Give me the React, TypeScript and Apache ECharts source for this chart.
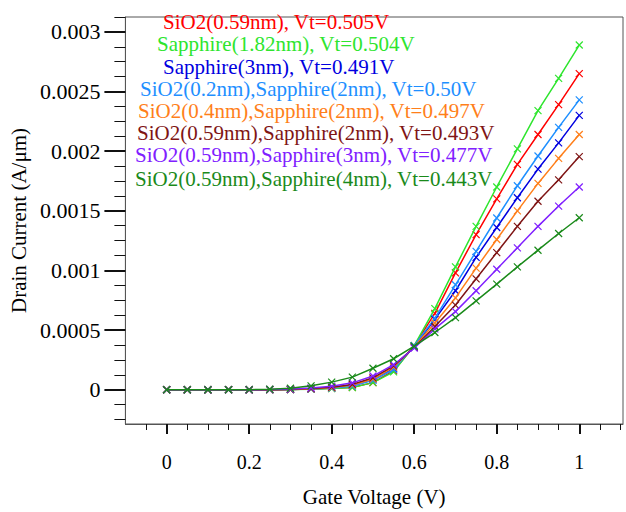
import React, { useEffect, useRef } from "react";
import * as echarts from "echarts";

const xValues = [0, 0.05, 0.1, 0.15, 0.2, 0.25, 0.3, 0.35, 0.4, 0.45, 0.5, 0.55, 0.6, 0.65, 0.7, 0.75, 0.8, 0.85, 0.9, 0.95, 1];

const seriesNames = [
  "SiO2(0.59nm), Vt=0.505V",
  "Sapphire(1.82nm), Vt=0.504V",
  "Sapphire(3nm), Vt=0.491V",
  "SiO2(0.2nm),Sapphire(2nm), Vt=0.50V",
  "SiO2(0.4nm),Sapphire(2nm), Vt=0.497V",
  "SiO2(0.59nm),Sapphire(2nm), Vt=0.493V",
  "SiO2(0.59nm),Sapphire(3nm), Vt=0.477V",
  "SiO2(0.59nm),Sapphire(4nm), Vt=0.443V",
];

const seriesColors = ["#ff0000", "#2ee52e", "#0000e0", "#1e8fff", "#ff7f1a", "#7f1515", "#8020ff", "#1a8a1a"];

const sio2_059 = [0, 0, 0, 0, 0, 0.000001, 0.000003, 0.000007, 0.000012, 0.00002, 0.00006, 0.00016, 0.00037, 0.00064, 0.00098, 0.0013, 0.0016, 0.00189, 0.00214, 0.00239, 0.00265];
const sapphire_182 = [0, 0, 0, 0, 0, 0.000001, 0.000002, 0.000005, 0.00001, 0.000018, 0.00006, 0.00015, 0.00037, 0.00068, 0.00103, 0.00137, 0.0017, 0.00202, 0.00234, 0.00261, 0.00289];
const sapphire_3 = [0, 0, 0, 0, 0, 0.000001, 0.000002, 0.000008, 0.000018, 0.000038, 0.000085, 0.00018, 0.00036, 0.00059, 0.00083, 0.00111, 0.00136, 0.00161, 0.00185, 0.00207, 0.0023];
const sio2_02_sap2 = [0, 0, 0, 0, 0, 0.000001, 0.000002, 0.000006, 0.000014, 0.00003, 0.00008, 0.00017, 0.00037, 0.0006, 0.00088, 0.00116, 0.00144, 0.00171, 0.00196, 0.0022, 0.00243];
const sio2_04_sap2 = [0, 0, 0, 0, 0, 0.000001, 0.000002, 0.000007, 0.000018, 0.00004, 0.00009, 0.00019, 0.00036, 0.00056, 0.00077, 0.00102, 0.00126, 0.0015, 0.00173, 0.00194, 0.00214];
const sio2_059_sap2 = [0, 0, 0, 0, 0, 0.000001, 0.000004, 0.00001, 0.000022, 0.000045, 0.0001, 0.0002, 0.000355, 0.00053, 0.00071, 0.00093, 0.00115, 0.00137, 0.00158, 0.00176, 0.001955];
const sio2_059_sap3 = [0, 0, 0, 0, 0, 0.000002, 0.000006, 0.000015, 0.00003, 0.000058, 0.000115, 0.00021, 0.00035, 0.00051, 0.000655, 0.00083, 0.00101, 0.00119, 0.00137, 0.00154, 0.0017];
const sio2_059_sap4 = [0, 0, 0, 0, 0.000001, 0.000004, 0.000013, 0.000033, 0.000064, 0.000106, 0.00018, 0.00026, 0.000365, 0.00048, 0.000605, 0.000745, 0.000885, 0.00103, 0.00117, 0.00131, 0.001442];

const seriesValues = [sio2_059, sapphire_182, sapphire_3, sio2_02_sap2, sio2_04_sap2, sio2_059_sap2, sio2_059_sap3, sio2_059_sap4];

const yMajorTicks = [0, 0.0005, 0.001, 0.0015, 0.002, 0.0025, 0.003];
const yTickLabels = ["0", "0.0005", "0.001", "0.0015", "0.002", "0.0025", "0.003"];
const yMinorTicks = [-0.00025, -0.000125, 0.000125, 0.00025, 0.000375, 0.000625, 0.00075, 0.000875, 0.001125, 0.00125, 0.001375, 0.001625, 0.00175, 0.001875, 0.002125, 0.00225, 0.002375, 0.002625, 0.00275, 0.002875, 0.003125];
const xMajorTicks = [0, 0.2, 0.4, 0.6, 0.8, 1];
const xTickLabels = ["0", "0.2", "0.4", "0.6", "0.8", "1"];
const xMinorTicks = [-0.05, 0.05, 0.1, 0.15, 0.25, 0.3, 0.35, 0.45, 0.5, 0.55, 0.65, 0.7, 0.75, 0.85, 0.9, 0.95, 1.05, 1.1];

const legendPos = [
  [163, 22],
  [157, 44],
  [163, 66.5],
  [140, 88.5],
  [138, 110.5],
  [137, 132.5],
  [135, 154.5],
  [135, 178.5],
];

const FONT = "Liberation Serif";

export default function App() {
  const ref = useRef<HTMLDivElement>(null);
  useEffect(() => {
    if (!ref.current) return;
    const chart = echarts.init(ref.current, null, { renderer: "svg" });
    const X_MIN = -0.1, X_MAX = 1.106, Y_MIN = -0.000287, Y_MAX = 0.003125;
    const xLabelMap: Record<string, string> = {};
    xMajorTicks.forEach((v, i) => (xLabelMap[String(v)] = xTickLabels[i]));
    const yLabelMap: Record<string, string> = {};
    yMajorTicks.forEach((v, i) => (yLabelMap[String(v)] = yTickLabels[i]));

    chart.setOption({
      animation: false,
      backgroundColor: "#ffffff",
      grid: { left: 122, top: 17, right: 3, bottom: 85, show: true, borderColor: "#555", borderWidth: 1, backgroundColor: "transparent" },
      xAxis: [
        {
          type: "value", min: X_MIN, max: X_MAX,
          name: "Gate Voltage (V)", nameLocation: "middle", nameGap: 62,
          nameTextStyle: { fontFamily: FONT, fontSize: 21, color: "#000" },
          axisLine: { show: true, onZero: false, lineStyle: { color: "#555", width: 1 } },
          axisTick: { show: true, customValues: xMajorTicks, length: 10, lineStyle: { color: "#111", width: 2 } },
          axisLabel: { show: true, customValues: xMajorTicks, margin: 28, fontFamily: FONT, fontSize: 20, color: "#000", formatter: (v: number) => xLabelMap[String(Math.round(v * 1000) / 1000)] ?? "" },
          splitLine: { show: false },
        },
        {
          type: "value", min: X_MIN, max: X_MAX, position: "bottom",
          axisLine: { show: false, onZero: false },
          axisTick: { show: true, customValues: xMinorTicks, length: 6, lineStyle: { color: "#111", width: 1 } },
          axisLabel: { show: false },
          splitLine: { show: false },
        },
      ],
      yAxis: [
        {
          type: "value", min: Y_MIN, max: Y_MAX,
          name: "Drain Current (A/μm)", nameLocation: "middle", nameGap: 90, nameRotate: 90,
          nameTextStyle: { fontFamily: FONT, fontSize: 21, color: "#000" },
          axisLine: { show: true, onZero: false, lineStyle: { color: "#555", width: 1 } },
          axisTick: { show: true, customValues: yMajorTicks, length: 21, lineStyle: { color: "#111", width: 2 } },
          axisLabel: { show: true, customValues: yMajorTicks, margin: 25, fontFamily: FONT, fontSize: 22, color: "#000", formatter: (v: number) => yLabelMap[String(Math.round(v * 100000) / 100000)] ?? "" },
          splitLine: { show: false },
        },
        {
          type: "value", min: Y_MIN, max: Y_MAX, position: "left",
          axisLine: { show: false, onZero: false },
          axisTick: { show: true, customValues: yMinorTicks, length: 11, lineStyle: { color: "#111", width: 1 } },
          axisLabel: { show: false },
          splitLine: { show: false },
        },
      ],
      series: seriesValues.map((vals, i) => ({
        type: "line",
        name: seriesNames[i],
        xAxisIndex: 0,
        yAxisIndex: 0,
        data: vals.map((v, j) => [xValues[j], v]),
        symbol: "path://M0,0L10,10M10,0L0,10",
        symbolSize: 7,
        showSymbol: true,
        showAllSymbol: true,
        lineStyle: { color: seriesColors[i], width: 1.5 },
        itemStyle: { color: seriesColors[i], borderColor: seriesColors[i], borderWidth: 1.2 },
        z: 2 + i,
      })),
      graphic: seriesNames.map((name, i) => ({
        type: "text",
        x: legendPos[i][0],
        y: legendPos[i][1],
        style: { text: name, fill: seriesColors[i], fontFamily: FONT, fontSize: 21, verticalAlign: "middle", align: "left" },
        z: 100,
      })),
    });
    return () => chart.dispose();
  }, []);
  return <div ref={ref} style={{ position: "absolute", left: 0, top: 0, width: 626, height: 512 }} />;
}
